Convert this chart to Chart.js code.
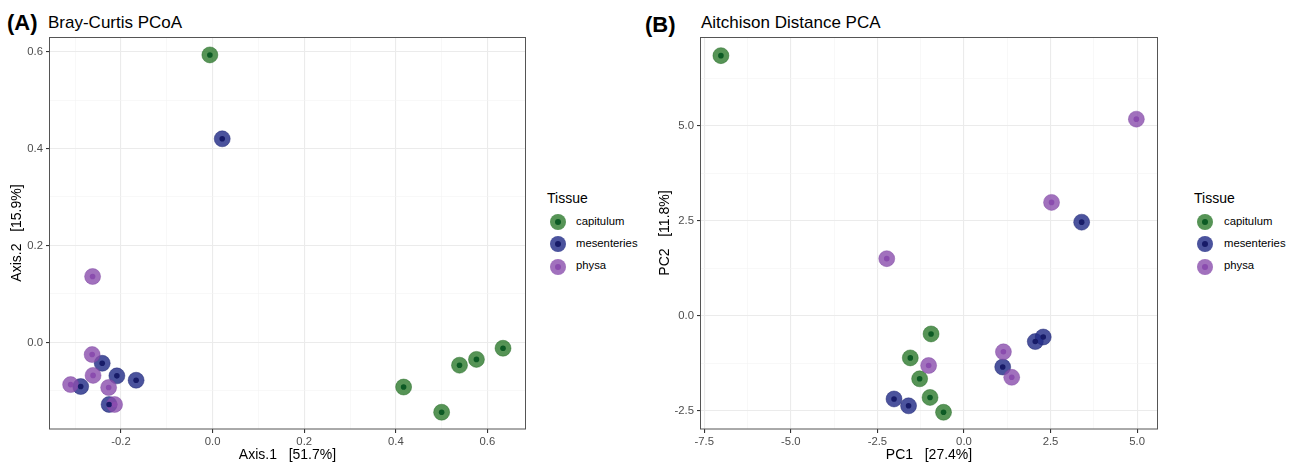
<!DOCTYPE html>
<html>
<head>
<meta charset="utf-8">
<script src="https://cdn.jsdelivr.net/npm/chart.js@4/dist/chart.umd.min.js"></script>
<style>
  html,body{margin:0;padding:0;background:#fff;}
  body{width:1298px;height:466px;position:relative;overflow:hidden;font-family:"Liberation Sans",Arial,Helvetica,sans-serif;}
  .abs{position:absolute;white-space:pre;line-height:1;}
  .tag{font-weight:bold;font-size:22px;color:#000;}
  .ttl{font-size:17px;color:#000;}
  .leg-title{font-size:14px;color:#000;}
  .leg-text{font-size:11.3px;color:#000;}
  .key{position:absolute;width:16px;height:16px;border-radius:50%;}
  .key i{position:absolute;left:5px;top:5px;width:6px;height:6px;border-radius:50%;display:block;}
  canvas{position:absolute;top:0;}
</style>
</head>
<body>
<div class="abs tag" style="left:7px;top:12px;">(A)</div>
<div class="abs ttl" style="left:48px;top:14px;">Bray-Curtis PCoA</div>
<div class="abs tag" style="left:645px;top:14px;">(B)</div>
<div class="abs ttl" style="left:701px;top:14px;">Aitchison Distance PCA</div>

<canvas id="chartA" width="540" height="466" style="left:0px;"></canvas>
<canvas id="chartB" width="540" height="466" style="left:640px;"></canvas>

<div id="legA"></div>
<div id="legB"></div>

<script>
// ---------- data ----------
const tissues = ['capitulum', 'mesenteries', 'physa'];

// Panel A: Bray-Curtis PCoA
const bcCapitulumX   = [-0.006, 0.417, 0.500, 0.539, 0.576, 0.634];
const bcCapitulumY   = [ 0.593, -0.092, -0.144, -0.047, -0.035, -0.012];
const bcMesenteriesX = [ 0.021, -0.241, -0.209, -0.167, -0.288, -0.226];
const bcMesenteriesY = [ 0.420, -0.043, -0.069, -0.078, -0.091, -0.128];
const bcPhysaX       = [-0.262, -0.263, -0.261, -0.310, -0.227, -0.214];
const bcPhysaY       = [ 0.136, -0.025, -0.068, -0.087, -0.093, -0.128];

const bcXTicks = [-0.2, 0.0, 0.2, 0.4, 0.6];
const bcXTickLabels = ['-0.2', '0.0', '0.2', '0.4', '0.6'];
const bcXMinor = [-0.3, -0.1, 0.1, 0.3, 0.5];
const bcYTicks = [0.0, 0.2, 0.4, 0.6];
const bcYTickLabels = ['0.0', '0.2', '0.4', '0.6'];
const bcYMinor = [-0.1, 0.1, 0.3, 0.5];
const bcXRange = [-0.355, 0.682];
const bcYRange = [-0.1786, 0.630];

// Panel B: Aitchison distance PCA
const aiCapitulumX   = [-7.02, -0.95, -1.55, -1.28, -0.98, -0.59];
const aiCapitulumY   = [ 6.84, -0.48, -1.11, -1.66, -2.15, -2.54];
const aiMesenteriesX = [ 3.40, -2.02, -1.60, 1.12, 2.06, 2.29];
const aiMesenteriesY = [ 2.46, -2.19, -2.37, -1.35, -0.68, -0.56];
const aiPhysaX       = [ 4.98, 2.53, -2.23, -1.02, 1.14, 1.38];
const aiPhysaY       = [ 5.17, 2.98, 1.50, -1.31, -0.95, -1.62];

const aiXTicks = [-7.5, -5.0, -2.5, 0.0, 2.5, 5.0];
const aiXTickLabels = ['-7.5', '-5.0', '-2.5', '0.0', '2.5', '5.0'];
const aiXMinor = [-6.25, -3.75, -1.25, 1.25, 3.75];
const aiYTicks = [-2.5, 0.0, 2.5, 5.0];
const aiYTickLabels = ['-2.5', '0.0', '2.5', '5.0'];
const aiYMinor = [-1.25, 1.25, 3.75, 6.25];
const aiXRange = [-7.595, 5.576];
const aiYRange = [-2.98, 7.33];

// ---------- styles ----------
const FONT = '"Liberation Sans", Arial, Helvetica, sans-serif';
const outerColors = ['rgba(38,118,38,0.78)', 'rgba(35,45,135,0.82)', 'rgba(138,78,172,0.80)'];
const outerBorders = ['rgba(30,100,30,0.55)', 'rgba(25,32,110,0.55)', 'rgba(120,62,158,0.5)'];
const innerColors = ['#0c5a24', '#171b68', '#8a4cae'];

function zip(xs, ys) { return xs.map((x, i) => ({ x: x, y: ys[i] })); }

function buildDatasets(groups) {
  const ds = [];
  groups.forEach((g, k) => {
    ds.push({ label: tissues[k] + ' outer', data: g, pointRadius: 8, pointHoverRadius: 8,
      backgroundColor: outerColors[k], borderColor: outerBorders[k], borderWidth: 0.8,
      order: 10 - k, clip: false });
  });
  groups.forEach((g, k) => {
    ds.push({ label: tissues[k] + ' inner', data: g, pointRadius: 2.8, pointHoverRadius: 2.8,
      backgroundColor: innerColors[k], borderWidth: 0, order: 3 - k, clip: false });
  });
  return ds;
}

function isMajor(v, majors) { return majors.some(m => Math.abs(m - v) < 1e-9); }

function scaleOpts(axis, range, majors, labels, minors, title, titlePad, fixedSize) {
  return {
    type: 'linear', min: range[0], max: range[1],
    afterBuildTicks: s => { s.ticks = majors.concat(minors).sort((a, b) => a - b).map(v => ({ value: v })); },
    afterFit: s => {
      if (axis === 'y') s.width = fixedSize; else s.height = fixedSize;
      s.paddingLeft = 0; s.paddingRight = 0; s.paddingTop = 0; s.paddingBottom = 0;
    },
    ticks: {
      autoSkip: false, maxRotation: 0, minRotation: 0, color: '#4d4d4d',
      font: { family: FONT, size: 11.3 }, padding: axis === 'y' ? 3 : 2,
      callback: v => { const i = majors.findIndex(m => Math.abs(m - v) < 1e-9); return i >= 0 ? labels[i] : ''; }
    },
    grid: {
      color: c => isMajor(c.tick.value, majors) ? '#ebebeb' : '#f4f4f4',
      lineWidth: c => isMajor(c.tick.value, majors) ? 1.1 : 0.6,
      tickColor: c => isMajor(c.tick.value, majors) ? '#333333' : 'rgba(0,0,0,0)',
      tickLength: 4, drawTicks: true, drawOnChartArea: true
    },
    border: { display: false },
    title: { display: true, text: title, color: '#000', font: { family: FONT, size: 14 },
      padding: { top: titlePad, bottom: titlePad } }
  };
}

const framePlugin = {
  id: 'frame',
  afterDraw(chart) {
    const { ctx, chartArea: a } = chart;
    ctx.save();
    ctx.strokeStyle = '#555555';
    ctx.lineWidth = 1;
    ctx.strokeRect(Math.round(a.left) - 0.5, Math.round(a.top) + 0.5, Math.round(a.right - a.left) + 1, Math.round(a.bottom - a.top) - 0.5);
    ctx.restore();
  }
};

function makeChart(id, groups, xs, ys, padding) {
  return new Chart(document.getElementById(id), {
    type: 'scatter',
    data: { datasets: buildDatasets(groups) },
    options: {
      responsive: false, animation: false, events: [],
      layout: { padding: padding },
      plugins: { legend: { display: false }, tooltip: { enabled: false } },
      scales: { x: xs, y: ys }
    },
    plugins: [framePlugin]
  });
}

makeChart('chartA',
  [zip(bcCapitulumX, bcCapitulumY), zip(bcMesenteriesX, bcMesenteriesY), zip(bcPhysaX, bcPhysaY)],
  scaleOpts('x', bcXRange, bcXTicks, bcXTickLabels, bcXMinor, 'Axis.1   [51.7%]', 2, 37),
  scaleOpts('y', bcYRange, bcYTicks, bcYTickLabels, bcYMinor, 'Axis.2   [15.9%]', 8.6, 50),
  { top: 37, right: 15, bottom: 0, left: 0 });

makeChart('chartB',
  [zip(aiCapitulumX, aiCapitulumY), zip(aiMesenteriesX, aiMesenteriesY), zip(aiPhysaX, aiPhysaY)],
  scaleOpts('x', aiXRange, aiXTicks, aiXTickLabels, aiXMinor, 'PC1   [27.4%]', 2, 37),
  scaleOpts('y', aiYRange, aiYTicks, aiYTickLabels, aiYMinor, 'PC2   [11.8%]', 16.6, 61),
  { top: 37, right: 23, bottom: 0, left: 0 });

// ---------- legends (HTML text) ----------
function buildLegend(elId, titleX, keyX, textX) {
  const el = document.getElementById(elId);
  let html = '<div class="abs leg-title" style="left:' + titleX + 'px;top:191px;">Tissue</div>';
  const cy = [222.3, 244, 266.7];
  tissues.forEach((t, k) => {
    html += '<div class="key" style="left:' + (keyX - 8) + 'px;top:' + (cy[k] - 8) + 'px;background:' + outerColors[k] + ';">' +
            '<i style="background:' + innerColors[k] + ';"></i></div>';
    html += '<div class="abs leg-text" style="left:' + textX + 'px;top:' + (cy[k] - 6.5) + 'px;">' + t + '</div>';
  });
  el.innerHTML = html;
}
buildLegend('legA', 547, 558, 576);
buildLegend('legB', 1194, 1205, 1224);
</script>
</body>
</html>
